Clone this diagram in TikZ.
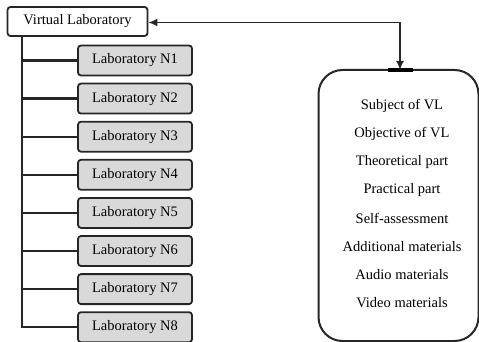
\documentclass[tikz,border=0pt]{standalone}
\usepackage{fontspec}
\setmainfont{Liberation Serif}
\usetikzlibrary{arrows.meta}
\begin{document}
\begin{tikzpicture}[x=1pt,y=-1pt,
  labbox/.style={draw=black!85,line width=1.8pt,rounded corners=3pt,fill=black!15,
    minimum width=114pt,minimum height=30pt,inner sep=0pt,font=\fontsize{14.5}{16}\selectfont},
  rootbox/.style={draw=black!85,line width=1.8pt,rounded corners=3pt,fill=white,
    minimum width=140pt,minimum height=29pt,inner sep=0pt,font=\fontsize{14.5}{16}\selectfont},
  item/.style={font=\fontsize{14.5}{16}\selectfont,inner sep=0pt},
  tree/.style={draw=black!85,line width=2.2pt},
  link/.style={draw=black!85,line width=1.7pt,{Latex[length=9pt,width=8pt]}-{Latex[length=9pt,width=8pt]}}]
\useasboundingbox (0,0) rectangle (479,342);
\node[rootbox] (vl) at (77.5,21.5) {Virtual Laboratory};
\foreach \i in {1,...,8}{
  \node[labbox] (n\i) at (135,{60.5+38.1*(\i-1)}) {Laboratory N\i};
}
\coordinate (tr) at (22,36);
\draw[tree] (tr) -- (tr |- n8.west) -- (n8.west);
\foreach \i in {1,...,7}{
  \draw[tree] (tr |- n\i.west) -- (n\i.west);
}
\draw[draw=black!85,line width=2pt,rounded corners=24pt] (318.5,70) rectangle (478.5,341);
\coordinate (rt) at (400,70);
\draw[line width=3.5pt] (388,70) -- (413,70);
\draw[link] (vl.east |- 0,22.5) -- (400,22.5) -- (rt);
\foreach \t [count=\k] in {Subject of VL,Objective of VL,Theoretical part,Practical part,Self-assessment,Additional materials,Audio materials,Video materials}{
  \node[item] (t\k) at (402,{106+28.1*(\k-1)}) {\t};
}
\end{tikzpicture}
\end{document}
